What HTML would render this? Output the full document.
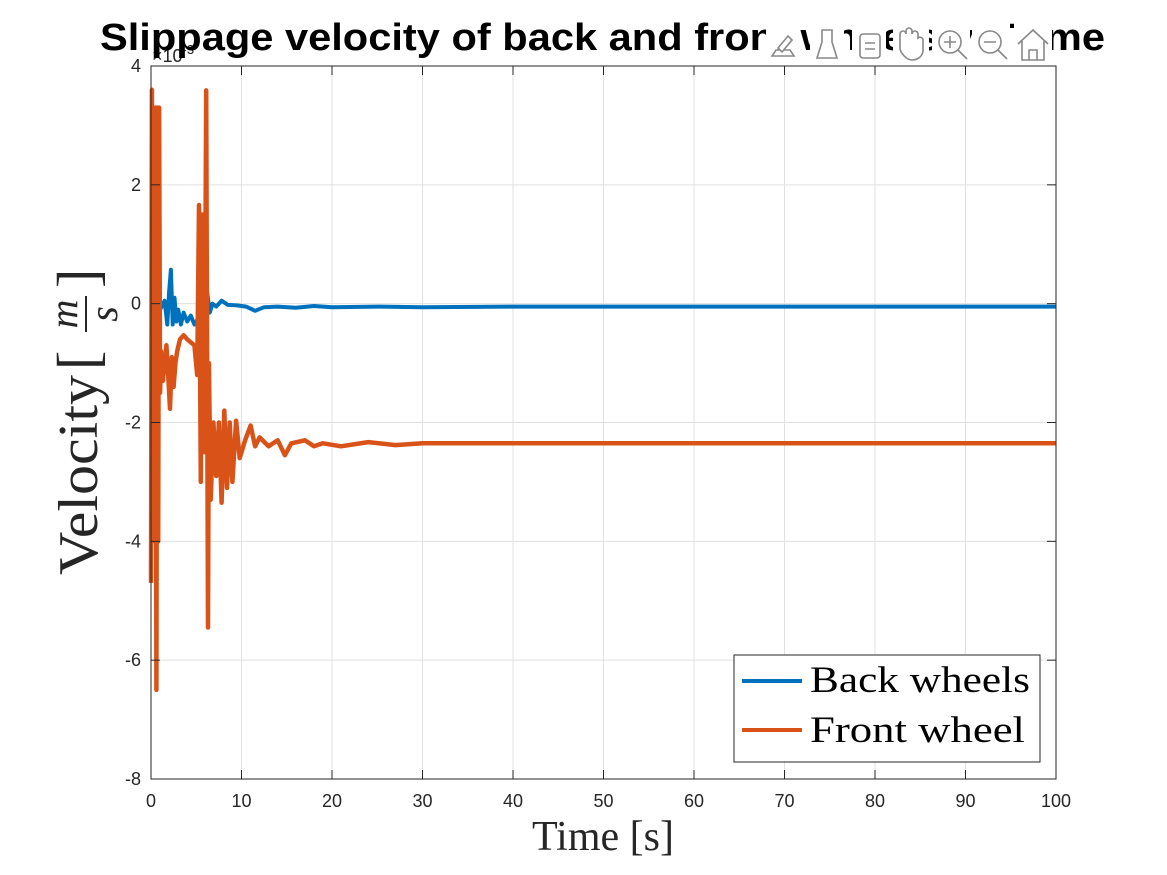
<!DOCTYPE html>
<html><head><meta charset="utf-8"><style>
body{margin:0;background:#fff;}
svg{display:block;font-family:"Liberation Sans",sans-serif;}
.serif{font-family:"Liberation Serif",serif;}
</style></head><body>
<svg id="chart" width="1167" height="875" viewBox="0 0 1167 875">
<rect x="0" y="0" width="1167" height="875" fill="#fff"/>
<g id="grid"></g>
<g id="series"></g>
<rect x="151" y="66" width="905" height="713" fill="none" stroke="#262626" stroke-width="1"/>
<g id="ticks"></g>
<text x="152" y="62" font-size="18" fill="#262626">×10<tspan dy="-8" font-size="13">-3</tspan></text>
<text x="100" y="50" font-size="38" font-weight="bold" textLength="1005" lengthAdjust="spacingAndGlyphs" fill="#000">Slippage velocity of back and front wheels vs Time</text>
<g fill="#fff" stroke="#888" stroke-width="1.6">
<g><rect x="766" y="22" width="34" height="40" stroke="none"/><path d="M772 56h22l-4-6h-14z"/><path d="M778 48l10-12 4 4-10 12z"/></g>
<g><rect x="810" y="22" width="34" height="40" stroke="none"/><path d="M822 30h10v12l5 16h-20l5-16z"/></g>
<g><rect x="852" y="22" width="34" height="40" stroke="none"/><rect x="860" y="34" width="20" height="24" rx="3"/><path d="M865 43h10M865 49h10"/></g>
<g><rect x="893" y="22" width="36" height="40" stroke="none"/><path d="M900 42v-8a3 3 0 016 0v-3a3 3 0 016 0v3a3 3 0 016 0v4a3 3 0 015 2v10c0 6-5 10-11 10s-12-8-12-12z"/></g>
<g><rect x="932" y="22" width="38" height="40" stroke="none"/><circle cx="950" cy="42" r="11"/><path d="M958 50l9 9M944 42h12M950 36v12"/></g>
<g><rect x="972" y="22" width="38" height="40" stroke="none"/><circle cx="990" cy="42" r="11"/><path d="M998 50l9 9M984 42h12"/></g>
<g><rect x="1014" y="22" width="38" height="40" stroke="none"/><path d="M1018 44l15-14 15 14M1022 41v19h22v-19M1029 60v-10h8v10"/></g>
</g>
<text class="serif" x="603" y="850" font-size="42" text-anchor="middle" fill="#262626">Time [s]</text>
<g transform="translate(97,0) rotate(-90)">
<text class="serif" x="-575" y="0" font-size="56" textLength="200" lengthAdjust="spacingAndGlyphs" fill="#262626">Velocity</text>
<text class="serif" x="-370" y="0" font-size="58" fill="#262626">[</text>
<text class="serif" x="-314" y="-20" font-size="40" font-style="italic" text-anchor="middle" fill="#262626">m</text>
<line x1="-332" y1="-11" x2="-296" y2="-11" stroke="#262626" stroke-width="2"/>
<text class="serif" x="-314" y="20" font-size="40" font-style="italic" text-anchor="middle" fill="#262626">s</text>
<text class="serif" x="-288" y="0" font-size="58" fill="#262626">]</text>
</g>
<g>
<rect x="734" y="655" width="306" height="107" fill="#fff" stroke="#262626" stroke-width="1"/>
<line x1="742" y1="681" x2="802" y2="681" stroke="#0072BD" stroke-width="4"/>
<text class="serif" x="810" y="692" font-size="37" textLength="220" lengthAdjust="spacingAndGlyphs" fill="#000">Back wheels</text>
<line x1="742" y1="730" x2="802" y2="730" stroke="#D95319" stroke-width="4"/>
<text class="serif" x="810" y="742" font-size="37" textLength="215" lengthAdjust="spacingAndGlyphs" fill="#000">Front wheel</text>
</g>
</svg>
<script>
const xTicks=[0,10,20,30,40,50,60,70,80,90,100];
const yTicks=[4,2,0,-2,-4,-6,-8];
const backT=[0,0.5,1.0,1.5,1.8,2.0,2.2,2.4,2.6,2.8,3.0,3.3,3.6,4.0,4.4,4.8,5.2,5.5,5.8,6.0,6.2,6.5,6.8,7.2,7.8,8.5,9.5,10.5,11.5,12.5,14,16,18,20,25,30,40,50,60,70,80,90,100];
const backV=[0,0.05,-0.1,0.05,-0.35,0.2,0.57,-0.35,0.1,-0.3,-0.1,-0.35,-0.15,-0.3,-0.2,-0.35,-0.25,-0.3,0.0,-0.25,0.2,-0.15,0.0,-0.05,0.05,-0.02,-0.03,-0.05,-0.12,-0.06,-0.05,-0.07,-0.04,-0.06,-0.05,-0.06,-0.05,-0.05,-0.05,-0.05,-0.05,-0.05,-0.05];
const frontT=[0,0.1,0.2,0.3,0.4,0.5,0.6,0.7,0.8,0.9,1.0,1.1,1.3,1.5,1.7,1.9,2.1,2.3,2.5,2.7,2.9,3.2,3.6,4.0,4.4,4.8,5.1,5.3,5.5,5.7,5.9,6.1,6.3,6.4,6.6,6.9,7.2,7.5,7.8,8.1,8.4,8.7,9.0,9.4,9.8,10.4,11,11.5,12,13,14,14.8,15.5,17,18,19,21,24,27,30,40,50,60,70,80,90,100];
const frontV=[-4.7,3.6,-2.6,2.8,-4.0,3.3,-6.5,3.3,-4.0,3.3,-1.5,-0.8,-1.3,-1.0,-0.7,-1.2,-1.77,-0.9,-1.4,-1.0,-0.8,-0.6,-0.53,-0.6,-0.65,-0.7,-1.2,1.66,-3.0,1.5,-2.5,3.59,-5.45,-1.0,-3.3,-2.0,-2.9,-2.0,-3.35,-1.8,-3.1,-2.0,-3.0,-1.97,-2.6,-2.3,-2.05,-2.4,-2.25,-2.4,-2.3,-2.55,-2.35,-2.3,-2.4,-2.35,-2.4,-2.33,-2.38,-2.35,-2.35,-2.35,-2.35,-2.35,-2.35,-2.35,-2.35];
const NS='http://www.w3.org/2000/svg';
const X0=151,X1=1056,Y0=779,Y1=66;
function sx(t){return X0+(t-0)/(100-0)*(X1-X0);}
function sy(v){return Y0-(v-(-8))/(4-(-8))*(Y0-Y1);}
const grid=document.getElementById('grid'),ticks=document.getElementById('ticks'),series=document.getElementById('series');
xTicks.forEach(t=>{
 const g=document.createElementNS(NS,'line');
 g.setAttribute('x1',sx(t));g.setAttribute('x2',sx(t));g.setAttribute('y1',Y1);g.setAttribute('y2',Y0);
 g.setAttribute('stroke','#e0e0e0');g.setAttribute('stroke-width','1');
 
 
 grid.appendChild(g);
 [[Y0,Y0-9],[Y1,Y1+9]].forEach(p=>{const k=document.createElementNS(NS,'line');k.setAttribute('x1',sx(t));k.setAttribute('x2',sx(t));k.setAttribute('y1',p[0]);k.setAttribute('y2',p[1]);k.setAttribute('stroke','#262626');
 
 
 ticks.appendChild(k);});
 const l=document.createElementNS(NS,'text');
 l.setAttribute('x',sx(t));l.setAttribute('y',Y0+28);l.setAttribute('font-size','18');l.setAttribute('text-anchor','middle');l.setAttribute('fill','#262626');
 l.textContent=t;
 
 
 ticks.appendChild(l);
});
yTicks.forEach(v=>{
 const g=document.createElementNS(NS,'line');
 g.setAttribute('x1',X0);g.setAttribute('x2',X1);g.setAttribute('y1',sy(v));g.setAttribute('y2',sy(v));
 g.setAttribute('stroke','#e0e0e0');g.setAttribute('stroke-width','1');
 
 
 grid.appendChild(g);
 [[X0,X0+9],[X1,X1-9]].forEach(p=>{const k=document.createElementNS(NS,'line');k.setAttribute('x1',p[0]);k.setAttribute('x2',p[1]);k.setAttribute('y1',sy(v));k.setAttribute('y2',sy(v));k.setAttribute('stroke','#262626');
 
 
 ticks.appendChild(k);});
 const l=document.createElementNS(NS,'text');
 l.setAttribute('x',X0-10);l.setAttribute('y',sy(v)+6);l.setAttribute('font-size','18');l.setAttribute('text-anchor','end');l.setAttribute('fill','#262626');
 l.textContent=v;
 
 
 ticks.appendChild(l);
});
function line(T,V,color,w,name){
 const p=document.createElementNS(NS,'polyline');
 p.setAttribute('points',T.map((t,i)=>sx(t).toFixed(1)+','+sy(V[i]).toFixed(1)).join(' '));
 p.setAttribute('fill','none');p.setAttribute('stroke',color);p.setAttribute('stroke-width',w);p.setAttribute('stroke-linejoin','round');
 
 
 series.appendChild(p);
}
line(backT,backV,'#0072BD',4,'back-wheels-line');
line(frontT,frontV,'#D95319',4.5,'front-wheel-line');
</script>
</body></html>
